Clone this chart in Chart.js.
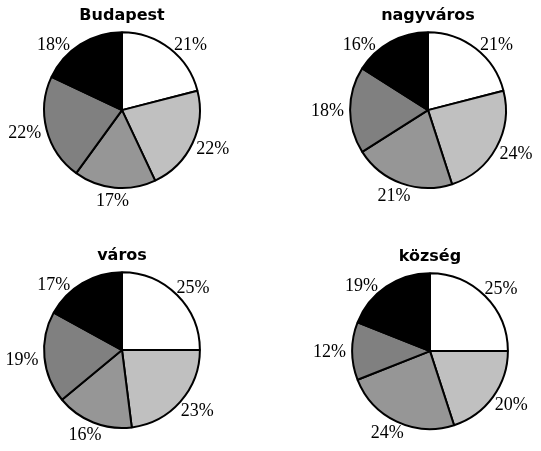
<!DOCTYPE html>
<html>
<head>
<meta charset="utf-8">
<script src="https://cdn.jsdelivr.net/npm/chart.js@4"></script>
<style>
    body { margin: 0; background: #fff; }
    #page { position: relative; width: 541px; height: 451px; overflow: hidden; }
    #page canvas { position: absolute; }
</style>
</head>
<body>
<div id="page">
    <canvas id="pieBudapest" width="270" height="225" style="left:-13px;top:0px"></canvas>
    <canvas id="pieNagyvaros" width="270" height="225" style="left:293px;top:0px"></canvas>
    <canvas id="pieVaros" width="270" height="225" style="left:-13px;top:240px"></canvas>
    <canvas id="pieKozseg" width="270" height="225" style="left:295px;top:241px"></canvas>
</div>
<script>
// Slice categories (no legend in the original), clockwise from 12 o'clock
const categories = ['1', '2', '3', '4', '5'];

// Percentages per settlement type
const budapestValues = [21, 22, 17, 22, 18];
const nagyvarosValues = [21, 24, 21, 18, 16];
const varosValues = [25, 23, 16, 19, 17];
const kozsegValues = [25, 20, 24, 12, 19];

const sliceColors = ['#ffffff', '#c0c0c0', '#969696', '#808080', '#000000'];

// Draws the "NN%" labels outside each slice, kept below the top of the pie box
const pieLabels = {
    id: 'pieLabels',
    afterDatasetsDraw(chart) {
        const ctx = chart.ctx;
        const meta = chart.getDatasetMeta(0);
        const values = chart.data.datasets[0].data;

        ctx.save();
        ctx.font = '18px "Liberation Serif"';
        ctx.fillStyle = '#000';
        ctx.textAlign = 'center';
        ctx.textBaseline = 'alphabetic';

        meta.data.forEach((arc, i) => {
            const { x, y, startAngle, endAngle, outerRadius } =
                arc.getProps(['x', 'y', 'startAngle', 'endAngle', 'outerRadius'], true);
            const text = values[i] + '%';
            const w = ctx.measureText(text).width;
            const h = 12;
            const dist = outerRadius + 6;
            const minY = y - outerRadius + 12;

            const place = a => ({
                x: x + Math.cos(a) * (dist + w / 2),
                y: y + Math.sin(a) * (dist + h / 2)
            });

            let a = (startAngle + endAngle) / 2;
            let p = place(a);
            const step = Math.cos(a) >= 0 ? 0.005 : -0.005;
            let guard = 0;
            while (p.y < minY && guard < 400) {
                a += step;
                p = place(a);
                guard++;
            }
            ctx.fillText(text, p.x, p.y + h / 2);
        });
        ctx.restore();
    }
};

function makePie(id, title, values) {
    const ctx = document.getElementById(id);
    return new Chart(ctx, {
        type: 'pie',
        data: {
            labels: categories,
            datasets: [{
                data: values,
                backgroundColor: sliceColors,
                borderColor: '#000000',
                borderWidth: 2,
                hoverOffset: 0
            }]
        },
        options: {
            responsive: false,
            animation: false,
            layout: {
                padding: { left: 56, right: 56, top: 0, bottom: 36 }
            },
            plugins: {
                legend: { display: false },
                tooltip: { enabled: false },
                title: {
                    display: true,
                    text: title,
                    color: '#000',
                    font: { family: '"DejaVu Sans"', size: 16, weight: 'bold' },
                    padding: { top: 6, bottom: 6 }
                }
            }
        },
        plugins: [pieLabels]
    });
}

makePie('pieBudapest', 'Budapest', budapestValues);
makePie('pieNagyvaros', 'nagyváros', nagyvarosValues);
makePie('pieVaros', 'város', varosValues);
makePie('pieKozseg', 'község', kozsegValues);
</script>
</body>
</html>
